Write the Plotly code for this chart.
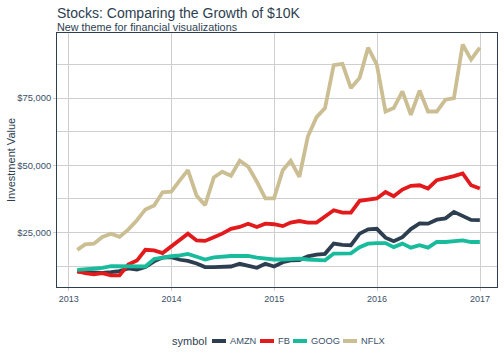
import pandas as pd
import plotly.graph_objects as go

# Month-end dates, Jan 2013 .. Dec 2016
dates = (pd.date_range("2013-01-01", periods=48, freq="MS") + pd.offsets.MonthEnd(0)).tolist()

symbols = ["AMZN", "FB", "GOOG", "NFLX"]

amzn = [10500, 10400, 10450, 10000, 10300, 10700, 11700, 11300, 12200, 14300, 15700, 15900,
        14900, 14500, 13500, 12200, 12200, 12400, 12400, 13400, 12800, 11900, 13400, 12400,
        14000, 14700, 14800, 16200, 16800, 17100, 20900, 20400, 20300, 24600, 26200, 26400,
        23100, 21800, 23300, 26300, 28400, 28300, 29800, 30300, 32700, 31000, 29700, 29600]

fb = [10700, 9900, 9500, 9900, 9100, 9100, 13100, 14600, 18600, 18400, 17400, 19900,
      22400, 24600, 22100, 21900, 23300, 24600, 26400, 27100, 28300, 27100, 28300, 28100,
      27400, 28700, 29300, 28700, 28700, 31100, 33300, 32400, 32400, 36800, 37400, 37700,
      40100, 38500, 41000, 42400, 42600, 41400, 44500, 45100, 46000, 47000, 42600, 41400]

goog = [11100, 11300, 11500, 11900, 12500, 12500, 12400, 12200, 12400, 15200, 15800, 16200,
        16500, 17100, 16000, 15000, 15800, 16100, 16300, 16300, 16300, 15700, 15300, 15000,
        15000, 15300, 15300, 15000, 15000, 14700, 17200, 17300, 17300, 19600, 20900, 21100,
        21100, 19600, 20900, 19400, 20300, 19400, 21500, 21500, 21800, 22100, 21500, 21500]

nflx = [18600, 20600, 20900, 23400, 24600, 23400, 26100, 29600, 33600, 35100, 40000, 40200,
        44500, 48200, 38700, 35200, 45500, 47600, 46100, 51700, 49500, 43900, 37700, 37700,
        48200, 51700, 45700, 60700, 67900, 71300, 87200, 87700, 78700, 82500, 93700, 87400,
        70000, 71300, 77500, 68800, 77800, 70000, 70000, 74400, 75000, 94900, 89300, 93700]

series = [amzn, fb, goog, nflx]
colors = ["#2c3e50", "#e31a1c", "#18BC9C", "#CCBE93"]

y_major = [25000, 50000, 75000]
y_labels = ["$25,000", "$50,000", "$75,000"]
y_minor = [12500, 37500, 62500, 87500]
x_ticks = ["2013-01-01", "2014-01-01", "2015-01-01", "2016-01-01", "2017-01-01"]
x_labels = ["2013", "2014", "2015", "2016", "2017"]

BLUE = "#2c3e50"
TICK = "#3a5068"
GRID = "#cfcfcf"
FONT = "Liberation Sans, Arial, sans-serif"

W, H = 504, 360
ML, MR, MT, MB = 57, 7, 33, 73
PW, PH = W - ML - MR, H - MT - MB


def px(x):
    return (x - ML) / PW


def py(y):
    return (H - MB - y) / PH


fig = go.Figure()
for name, vals, col in zip(symbols, series, colors):
    fig.add_trace(go.Scatter(x=dates, y=vals, mode="lines", name=name,
                             line=dict(color=col, width=3.8), showlegend=False))

annotations = [
    dict(text="Stocks: Comparing the Growth of $10K", xref="paper", yref="paper",
         x=px(57), y=py(13), xanchor="left", yanchor="middle", xshift=-2, showarrow=False,
         font=dict(size=14, color=BLUE, family=FONT)),
    dict(text="New theme for financial visualizations", xref="paper", yref="paper",
         x=px(57), y=py(27), xanchor="left", yanchor="middle", xshift=-2, showarrow=False,
         font=dict(size=10.8, color=BLUE, family=FONT)),
    dict(text="Investment Value", xref="paper", yref="paper", x=px(11), y=py(160),
         xanchor="center", yanchor="middle", textangle=-90, showarrow=False,
         font=dict(size=11, color=BLUE, family=FONT)),
    dict(text="symbol", xref="paper", yref="paper", x=px(172), y=py(341), xanchor="left",
         yanchor="middle", xshift=-2, showarrow=False, font=dict(size=11, color=BLUE, family=FONT)),
]

# legend keys (drawn as a compact ggplot-style legend)
key_left = [212, 260, 293, 343]
shapes = []
for name, col, kx in zip(symbols, colors, key_left):
    shapes.append(dict(type="line", xref="paper", yref="paper", x0=px(kx), x1=px(kx + 14),
                       y0=py(341), y1=py(341), line=dict(color=col, width=4)))
    annotations.append(dict(text=name, xref="paper", yref="paper", x=px(kx + 18), y=py(341),
                            xanchor="left", yanchor="middle", xshift=-2, showarrow=False,
                            font=dict(size=9.3, color=TICK, family=FONT)))

fig.update_layout(
    width=W, height=H,
    margin=dict(l=ML, r=MR, t=MT, b=MB),
    paper_bgcolor="white", plot_bgcolor="white",
    font=dict(family=FONT, color=BLUE, size=11),
    showlegend=False,
    annotations=annotations,
    shapes=shapes,
    xaxis=dict(type="date", range=["2012-11-20", "2017-03-02"], tickvals=x_ticks,
               ticktext=x_labels, showgrid=True, gridcolor=GRID, gridwidth=1,
               ticks="outside", ticklen=3, tickcolor=GRID, showline=True, linecolor=BLUE,
               linewidth=1, mirror=True, zeroline=False, automargin=False,
               tickfont=dict(size=9, color=TICK)),
    yaxis=dict(range=[4776, 99180], tickvals=y_major, ticktext=y_labels, showgrid=True,
               gridcolor=GRID, gridwidth=1, ticks="outside", ticklen=3, tickcolor=GRID,
               showline=True, linecolor=BLUE, linewidth=1, mirror=True, zeroline=False,
               automargin=False, tickfont=dict(size=9.4, color=TICK),
               minor=dict(tickvals=y_minor, showgrid=True, gridcolor=GRID, gridwidth=1,
                          ticks="")),
)

fig.write_html("out.html", config={"displayModeBar": False},
               post_script="document.body.style.margin='0';document.body.style.overflow='hidden';")
